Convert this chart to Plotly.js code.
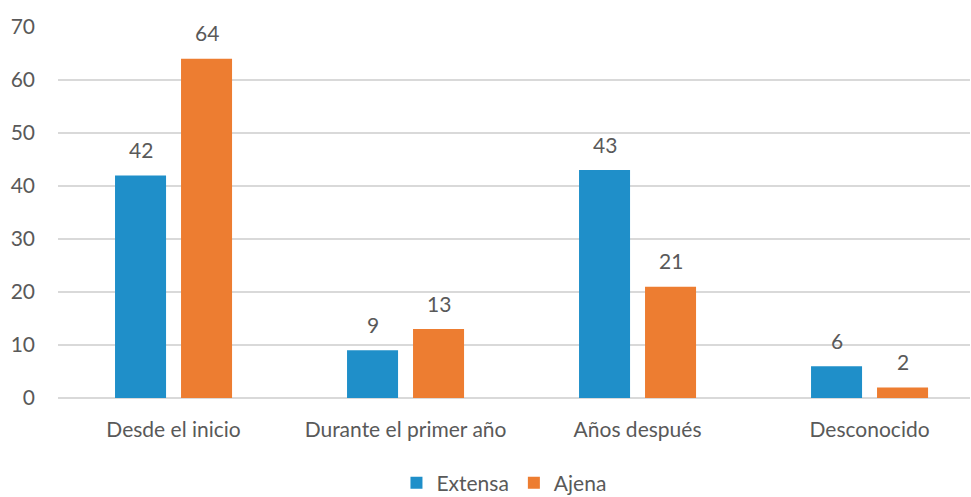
<!DOCTYPE html>
<html>
<head>
<meta charset="utf-8">
<script src="https://cdn.plot.ly/plotly-3.0.1.min.js"></script>
<style>html,body{margin:0;padding:0;background:#fff}#chart{width:971px;height:497px}</style>
</head>
<body>
<div id="chart"></div>
<script>
const categories = ["Desde el inicio", "Durante el primer año", "Años después", "Desconocido"];
const extensa = [42, 9, 43, 6];
const ajena = [64, 13, 21, 2];
const seriesNames = ["Extensa", "Ajena"];
const yTicks = [0, 10, 20, 30, 40, 50, 60, 70];

const textColor = "#595959";
const fontFamily = "Lato, 'Open Sans', sans-serif";
const fs = 21;

const traces = [
  {type: "bar", name: seriesNames[0], x: categories, y: extensa, marker: {color: "#1F8FC9"}, hoverinfo: "none"},
  {type: "bar", name: seriesNames[1], x: categories, y: ajena, marker: {color: "#ED7D31"}, hoverinfo: "none"}
];

const annotations = [];
[extensa, ajena].forEach((vals, si) => {
  vals.forEach((v, i) => {
    annotations.push({
      x: categories[i], y: v, xref: "x", yref: "y",
      text: String(v), showarrow: false,
      xshift: si === 0 ? -33 : 33, yshift: 26, yanchor: "middle",
      font: {family: fontFamily, size: fs, color: textColor}
    });
  });
});

const layout = {
  width: 971, height: 497,
  margin: {l: 58, r: 1, t: 27, b: 99},
  paper_bgcolor: "#fff", plot_bgcolor: "#fff",
  font: {family: fontFamily, size: fs, color: textColor},
  barmode: "group", bargap: 0.431, bargroupgap: 0.227,
  showlegend: true,
  legend: {orientation: "h", x: 0.489, xanchor: "center", yref: "container", y: 0.028, yanchor: "middle",
           font: {family: fontFamily, size: fs, color: textColor}, traceorder: "normal"},
  xaxis: {type: "category", range: [-0.498, 3.433], showgrid: false, zeroline: false, showline: false, ticks: "",
          ticklabelstandoff: 17, tickfont: {family: fontFamily, size: fs, color: textColor}},
  yaxis: {range: [0, 70], tickvals: yTicks, showgrid: true, gridcolor: "#D9D9D9", gridwidth: 1.5,
          zeroline: true, zerolinecolor: "#D9D9D9", zerolinewidth: 1.5, showline: false, ticks: "",
          ticklabelstandoff: 22, tickfont: {family: fontFamily, size: fs, color: textColor}},
  annotations: annotations
};

Plotly.newPlot("chart", traces, layout, {staticPlot: true, displayModeBar: false});
</script>
</body>
</html>
